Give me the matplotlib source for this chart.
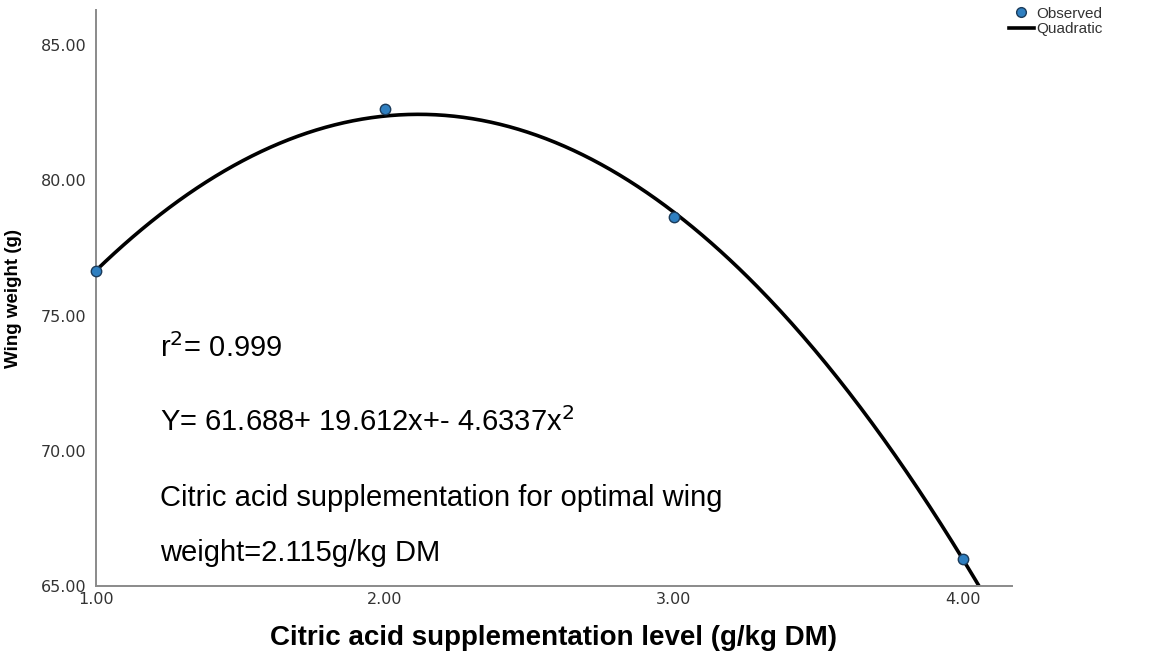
import numpy as np
import matplotlib
matplotlib.use("Agg")
import matplotlib.pyplot as plt
from matplotlib.lines import Line2D

# observed means
levels = [1.0, 2.0, 3.0, 4.0]
wing_weight = [76.65, 82.65, 78.65, 66.0]

# quadratic fit as printed on the chart
coef = [61.688, 19.612, -4.6337]
yticks = [65, 70, 75, 80, 85]
xticks = [1, 2, 3, 4]

fig = plt.figure(figsize=(11.7, 6.58), dpi=100)
ax = fig.add_axes([0.082, 0.109, 0.783, 0.876])

xs = np.linspace(1.0, 4.17, 400)
ys = coef[0] + coef[1] * xs + coef[2] * xs ** 2
ax.plot(xs, ys, color="black", lw=2.6, solid_capstyle="butt", zorder=2)
ax.plot(levels, wing_weight, "o", ms=7.5, mfc="#2f7fc0", mec="#1b3b5a", mew=1.0,
        zorder=3, clip_on=False)

ax.set_xlim(1.0, 4.17)
ax.set_ylim(65, 86.3)
ax.set_xticks(xticks)
ax.set_yticks(yticks)
ax.set_xticklabels(["%.2f" % v for v in xticks])
ax.set_yticklabels(["%.2f" % v for v in yticks])
ax.tick_params(length=0, labelsize=11.5, labelcolor="#333333", pad=7)
ax.tick_params(axis="x", pad=4)
for s in ("top", "right"):
    ax.spines[s].set_visible(False)
for s in ("left", "bottom"):
    ax.spines[s].set_color("#8a8a8a")
    ax.spines[s].set_linewidth(1.4)

lab = dict(fontweight="bold", family=["Liberation Sans Narrow", "Liberation Sans", "DejaVu Sans"])
ax.set_ylabel("Wing weight (g)", fontsize=13.5, labelpad=13, **lab)
ax.set_xlabel("Citric acid supplementation level (g/kg DM)", fontsize=20, labelpad=13, **lab)

txt = dict(fontsize=21, family=["Liberation Sans", "DejaVu Sans"], color="black",
           transform=fig.transFigure, va="center", ha="left")
fig.text(160 / 1170, 1 - 348 / 658, r"r$^2$= 0.999", **txt)
fig.text(160 / 1170, 1 - 422 / 658, r"Y= 61.688+ 19.612x+- 4.6337x$^2$", **txt)
fig.text(160 / 1170, 1 - 498 / 658, "Citric acid supplementation for optimal wing", **txt)
fig.text(160 / 1170, 1 - 553 / 658, "weight=2.115g/kg DM", **txt)

handles = [Line2D([], [], ls="none", marker="o", ms=7, mfc="#2f7fc0", mec="#1b3b5a"),
           Line2D([], [], color="black", lw=2.6)]
fig.legend(handles, ["Observed", "Quadratic"], loc="upper left",
           bbox_to_anchor=(1000 / 1170, 1.004), frameon=False, handlelength=1.6,
           handletextpad=0.2, labelspacing=0.1, borderaxespad=0.2,
           prop={"family": ["Liberation Sans", "DejaVu Sans"], "size": 11},
           labelcolor="#333333")

fig.savefig("out.png", dpi=100)
